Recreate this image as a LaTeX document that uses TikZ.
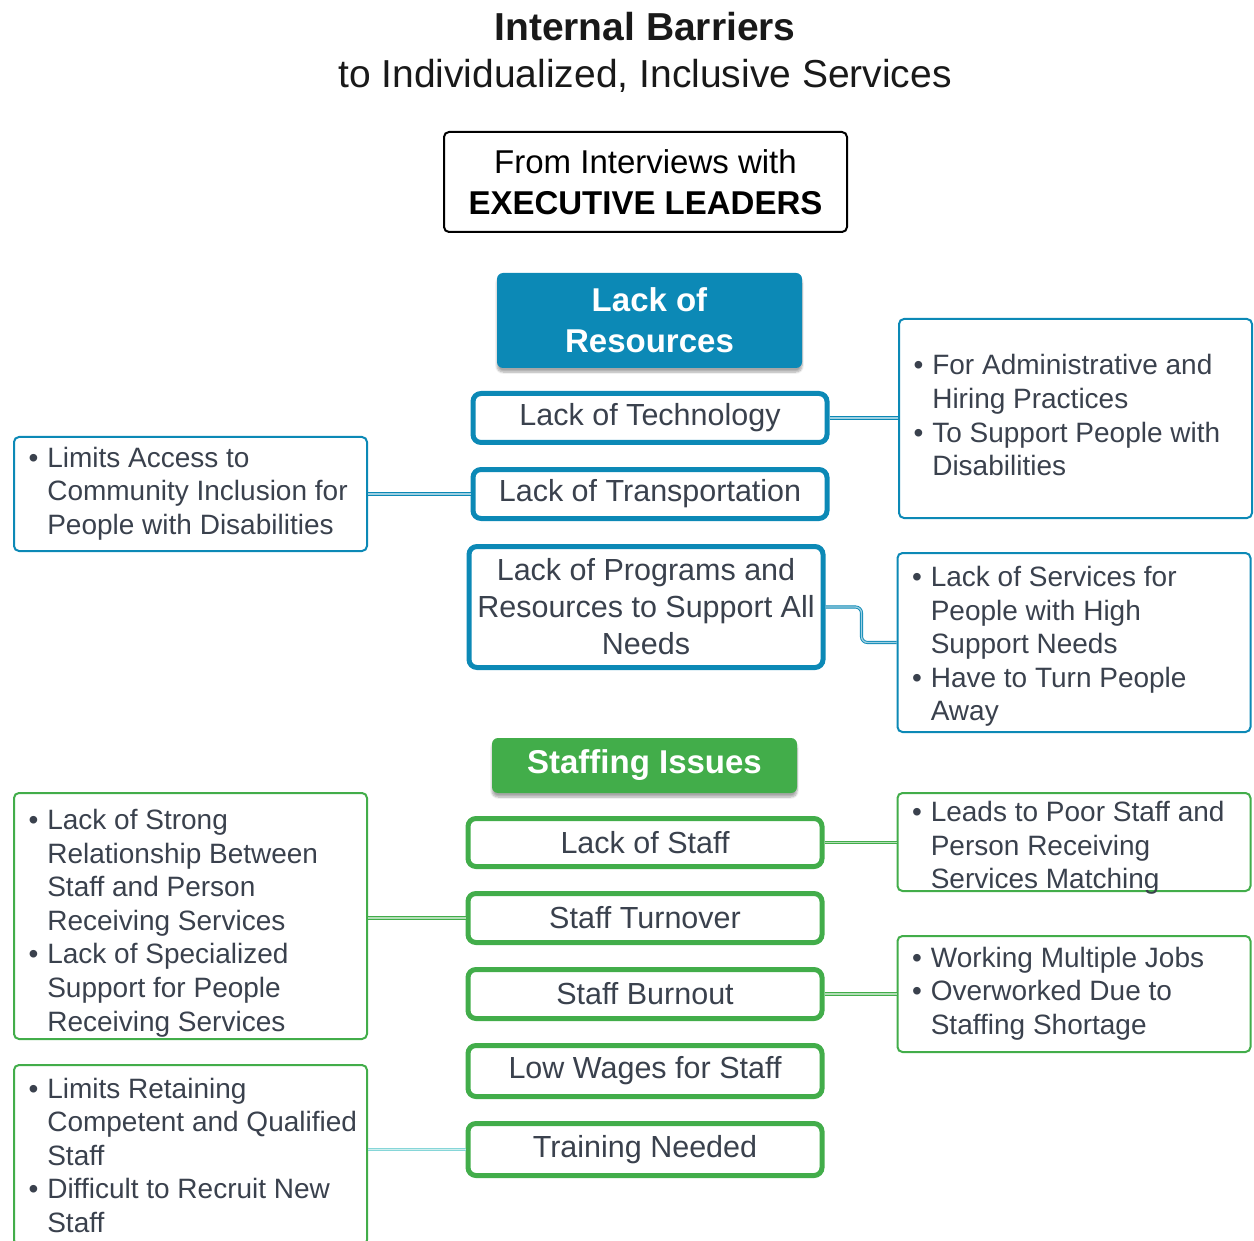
\documentclass[tikz,border=0pt]{standalone}
\usepackage{fontspec}
\setmainfont{Liberation Sans}
\usetikzlibrary{shadows.blur}

\definecolor{resblue}{HTML}{0C89B6}
\definecolor{staffgreen}{HTML}{42AD4A}
\definecolor{inkgray}{HTML}{3A414D}
\definecolor{paleteal}{HTML}{86D6D8}

\newcommand{\titlefont}{\fontsize{39}{47}\selectfont}
\newcommand{\headfont}{\fontsize{33}{41}\selectfont}
\newcommand{\itemfont}{\fontsize{30.5}{37}\selectfont}
\newcommand{\notefont}{\fontsize{28}{33.6}\selectfont}
% box height, downward shift x2, bullet rows
\newcommand{\notes}[3]{\parbox[c][#1][c]{324pt}{\vspace*{#2}%
  \begin{tabular}{@{}l@{\hspace{9pt}}l@{}}#3\end{tabular}}}

\tikzset{
  headbox/.style={rectangle, rounded corners=6pt, fill=#1, text=white,
    font=\headfont\bfseries, align=center, minimum width=305pt,
    blur shadow={shadow blur steps=8, shadow xshift=0pt, shadow yshift=-4pt, shadow opacity=35}},
  itembox/.style={rectangle, rounded corners=8pt, draw=#1, line width=5pt,
    text=inkgray, font=\itemfont, align=center, minimum width=354pt, inner sep=2pt},
  notebox/.style={rectangle, rounded corners=5pt, draw=#1, line width=2pt,
    text=inkgray, font=\notefont, inner xsep=14.5pt, inner ysep=0pt},
  link/.style={draw=#1, line width=0.9pt, double=#1!40, double distance=1.3pt}
}

\begin{document}
\begin{tikzpicture}[x=1pt,y=-1pt]
\useasboundingbox (0,0) rectangle (1254,1241);

% title and source
\node[align=center, font=\titlefont, text=black!90] (title) at (645,52)
  {\textbf{Internal Barriers}\\to Individualized, Inclusive Services};
\node[draw, line width=2pt, rounded corners=5pt, minimum width=403pt,
  minimum height=100pt, align=center, font=\headfont] (source) at (645.5,182)
  {From Interviews with\\\textbf{EXECUTIVE LEADERS}};

% lack of resources
\node[headbox=resblue, minimum height=95pt] (reshead) at (649.5,320.5) {Lack of\\Resources};
\node[itembox=resblue, minimum height=49pt] (tech) at (650,418) {Lack of Technology};
\node[itembox=resblue, minimum height=49pt] (transport) at (650,494) {Lack of Transportation};
\node[itembox=resblue, minimum height=121pt] (prog) at (646,607)
  {Lack of Programs and\\Resources to Support All\\Needs};

\node[notebox=resblue] (admin) at (1075.5,418.5)
  {\notes{199pt}{0pt}{\textbullet & For Administrative and\\ & Hiring Practices\\
  \textbullet & To Support People with\\ & Disabilities}};
\node[notebox=resblue] (access) at (190.5,494)
  {\notes{114pt}{0pt}{\textbullet & Limits Access to\\ & Community Inclusion for\\
  & People with Disabilities}};
\node[notebox=resblue] (support) at (1074,642.5)
  {\notes{179pt}{9pt}{\textbullet & Lack of Services for\\ & People with High\\ & Support Needs\\
  \textbullet & Have to Turn People\\ & Away}};

\draw[link=resblue] (tech.east) -- (tech.east -| admin.west);
\draw[link=resblue] (access.east) -- (access.east -| transport.west);
\draw[link=resblue, rounded corners=6pt] (prog.east) -- ++(36pt,0) |- (support.west);

% staffing issues
\node[headbox=staffgreen, minimum height=55pt] (staffhead) at (644.5,765.5) {Staffing Issues};
\node[itembox=staffgreen, minimum height=48pt] (lackstaff) at (645,842.5) {Lack of Staff};
\node[itembox=staffgreen, minimum height=49pt] (turnover) at (645,918) {Staff Turnover};
\node[itembox=staffgreen, minimum height=49pt] (burnout) at (645,994) {Staff Burnout};
\node[itembox=staffgreen, minimum height=51pt] (wages) at (645,1071) {Low Wages for Staff};
\node[itembox=staffgreen, minimum height=52pt] (training) at (645,1149.5) {Training Needed};

\node[notebox=staffgreen] (relation) at (190.5,916)
  {\notes{246pt}{15pt}{\textbullet & Lack of Strong\\ & Relationship Between\\ & Staff and Person\\
  & Receiving Services\\ \textbullet & Lack of Specialized\\ & Support for People\\
  & Receiving Services}};
\node[notebox=staffgreen] (retain) at (190.5,1155)
  {\notes{180pt}{7pt}{\textbullet & Limits Retaining\\ & Competent and Qualified\\ & Staff\\
  \textbullet & Difficult to Recruit New\\ & Staff}};
\node[notebox=staffgreen] (match) at (1074,842)
  {\notes{98pt}{13pt}{\textbullet & Leads to Poor Staff and\\ & Person Receiving\\ & Services Matching}};
\node[notebox=staffgreen] (multi) at (1074,994)
  {\notes{116pt}{0pt}{\textbullet & Working Multiple Jobs\\ \textbullet & Overworked Due to\\
  & Staffing Shortage}};

\draw[link=staffgreen] (lackstaff.east) -- (lackstaff.east -| match.west);
\draw[link=staffgreen] (relation.east |- turnover.west) -- (turnover.west);
\draw[link=staffgreen] (burnout.east) -- (burnout.east -| multi.west);
\draw[link=paleteal] (retain.east |- training.west) -- (training.west);
\end{tikzpicture}
\end{document}
